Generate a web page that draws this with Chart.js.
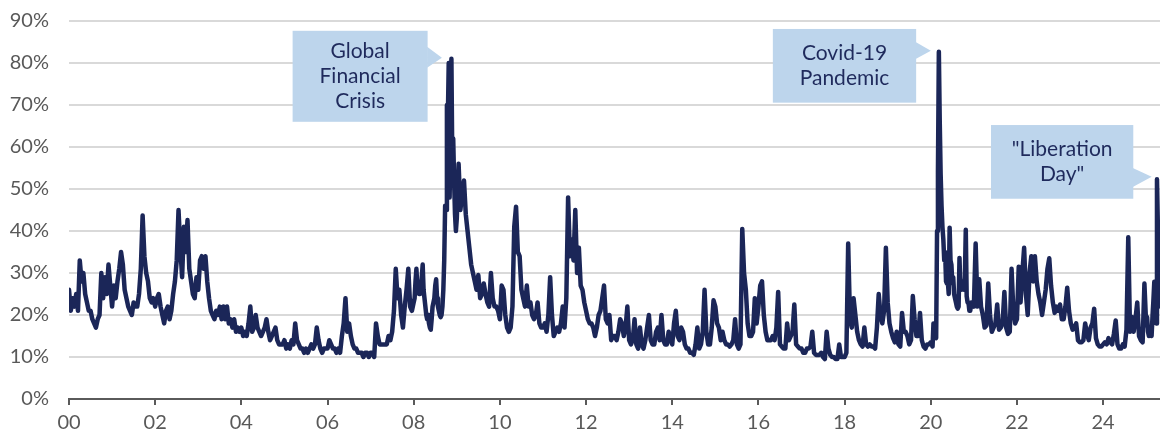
<!DOCTYPE html>
<html>
<head>
<meta charset="utf-8">
<script src="https://cdn.jsdelivr.net/npm/chart.js@4.4.1/dist/chart.umd.min.js"></script>
<style>
  html, body { margin: 0; padding: 0; background: #fff; }
  #wrap { width: 1160px; height: 437px; }
</style>
</head>
<body>
<div id="wrap"><canvas id="vixChart" width="1160" height="437"></canvas></div>
<script>
// VIX level (%): half-monthly, weekly in 2008, 2020 and 2025
const vix2000 = [26, 21, 24, 22, 25, 21, 33, 28, 30, 25, 23, 21, 21, 19, 18, 17, 19, 20, 30, 24, 29, 25, 32, 27];
const vix2001 = [22, 27, 24, 28, 31, 35, 32, 26, 24, 22, 21, 20, 23, 22, 22, 25, 31, 43.7, 34, 30, 28, 24, 23, 24];
const vix2002 = [22, 24, 25, 22, 20, 18, 21, 22, 19, 21, 25, 28, 33, 45, 36, 29, 41, 35, 42.6, 31, 28, 25, 24, 29];
const vix2003 = [26, 33, 34, 31, 34, 28, 24, 21, 20, 19, 21, 20, 22, 19, 22, 19, 22, 18, 19, 17, 19, 16, 17, 16];
const vix2004 = [17, 15, 16, 15, 18, 22, 16, 17, 20, 17, 16, 15, 16, 17, 19, 16, 14, 15, 16, 17, 14, 13, 13, 13];
const vix2005 = [14, 12, 13, 12, 14, 13, 18, 14, 13, 12, 12, 11, 12, 11, 12, 13, 12, 13, 17, 14, 12, 11, 12, 12];
const vix2006 = [12, 14, 13, 12, 12, 11, 12, 11, 15, 18, 24, 16, 18, 15, 13, 12, 12, 11, 11, 11, 10, 11, 11, 10];
const vix2007 = [11, 11, 10, 18, 15, 13, 13, 13, 13, 13, 15, 14, 16, 21, 31, 24, 26, 20, 17, 22, 26, 31, 22, 21];
const vix2008 = [23, 24, 28, 31, 27, 28, 25, 26, 26, 29, 32, 26, 24, 22, 20, 19, 20, 18, 17, 16.5, 19, 22, 23, 24,
                 27, 28.5, 24, 22, 21, 20, 19.5, 20, 22, 26, 33, 46, 45, 70, 66, 80, 48, 62, 81, 56, 62, 52, 44, 40];
const vix2009 = [43, 56, 45, 49, 52, 44, 40, 36, 32, 30, 28, 26, 29.5, 24, 25, 27.5, 25, 23, 22, 30, 24, 22, 22, 21];
const vix2010 = [19, 27, 26, 20, 17, 16, 17, 22, 41, 45.8, 35, 34, 26, 24, 22, 27, 22, 23, 20, 19, 20, 23, 18, 17];
const vix2011 = [17, 18, 16, 20, 29, 20, 15, 16, 17, 16, 18, 22, 17, 24, 48, 34, 38, 33, 45, 30, 36, 27, 26, 23];
const vix2012 = [21, 19, 18, 18, 17, 15, 17, 20, 21, 24, 27, 19, 18, 20, 14, 15, 15, 14, 16, 19, 18, 15, 17, 22];
const vix2013 = [14, 13, 14, 19, 13, 12, 17, 13, 12, 14, 17, 20, 14, 13, 13, 16, 17, 14, 20, 14, 13, 13, 16, 14];
const vix2014 = [13, 18, 21, 15, 14, 17, 16, 13, 12, 12, 11, 11, 10.5, 13, 17, 12, 13, 16, 26, 16, 13, 13, 17, 23.5];
const vix2015 = [22, 18, 17, 14, 16, 14, 13, 13, 12.5, 13, 14, 19, 13, 12, 13, 40.5, 30, 26, 18, 15, 15, 16, 24, 18];
const vix2016 = [22, 27, 28, 20, 16, 14, 14, 14, 15, 14, 17, 25.5, 13, 12.5, 12, 12, 18, 14, 15, 16, 22.5, 13, 12.5, 12];
const vix2017 = [12, 11, 11, 12, 12, 12.5, 16, 11, 10.5, 10.5, 10.5, 11, 10, 9.5, 16, 12, 10.5, 10, 10, 9.5, 9.5, 13, 10, 10];
const vix2018 = [10, 11, 37, 19, 17, 24, 20, 16, 14, 13, 12.5, 17, 13, 12.5, 13, 12.5, 12.5, 12, 17, 25, 20, 18, 21, 36];
const vix2019 = [23, 18, 16, 14.5, 13.5, 16, 13, 12.5, 20.5, 16, 16, 15, 13, 14, 24.5, 19, 15, 15, 20.5, 14, 12.5, 12, 13, 13];
const vix2020 = [13.5, 13, 12.5, 18, 17, 15, 14.5, 40, 54, 82.7, 66, 53.5, 46, 41, 38, 33, 35, 28, 27.5, 28, 25, 40.8, 33, 32,
                 27.5, 29, 25, 24, 23, 22, 21.5, 22, 33.6, 26, 26, 27, 28, 26, 29, 40.3, 24.5, 23, 23, 21, 21, 23, 22, 23];
const vix2021 = [22, 37, 22, 28.5, 22, 20, 17, 17.5, 27.5, 20, 16, 17, 18, 22.5, 16.5, 17, 18, 25.5, 17, 15.5, 16, 31, 21, 18];
const vix2022 = [19, 31.5, 23, 30, 36, 25, 20, 30, 34, 28, 34, 28, 25, 23, 20, 23, 26, 31, 33.5, 27, 23, 20.5, 22, 21];
const vix2023 = [22.5, 19, 19, 22, 26.5, 21, 18, 16.5, 17, 18, 14, 13.5, 13.5, 14, 18, 15.5, 14, 17, 18, 21.5, 14.5, 13, 12.5, 12.5];
const vix2024 = [13, 13.5, 13, 14.5, 13.5, 13, 15.5, 18.7, 13, 12, 12, 13, 12.5, 16.5, 38.5, 16, 19.5, 16, 19, 23, 15, 14, 13.5, 27.5];
const vix2025 = [17.5, 19.5, 16, 15, 16, 15.5, 15, 19.6, 23.4, 27.9, 21, 18, 52.3, 40.7, 30, 25, 22];

const weeklyYears = [2008, 2020, 2025];
const xTickValues = [0, 2, 4, 6, 8, 10, 12, 14, 16, 18, 20, 22, 24];
const xTickLabels = ['00', '02', '04', '06', '08', '10', '12', '14', '16', '18', '20', '22', '24'];
const yTickValues = [0, 10, 20, 30, 40, 50, 60, 70, 80, 90];
const calloutText = [['Global', 'Financial', 'Crisis'], ['Covid-19', 'Pandemic'], ['"Liberation', 'Day"']];
const calloutYears = [2008, 2020, 2025];

const lineColor = '#1b2658';
const axisColor = '#5a5a5a';
const gridColor = '#d9d9d9';
const labelColor = '#595959';
const calloutFill = '#bdd5ec';
const calloutInk = '#1f2a5c';
const fontFamily = 'Lato, "Open Sans", sans-serif';

const seriesByYear = [vix2000, vix2001, vix2002, vix2003, vix2004, vix2005, vix2006, vix2007, vix2008,
  vix2009, vix2010, vix2011, vix2012, vix2013, vix2014, vix2015, vix2016, vix2017, vix2018, vix2019,
  vix2020, vix2021, vix2022, vix2023, vix2024, vix2025];

const points = [];
seriesByYear.forEach((vals, k) => {
  const n = weeklyYears.includes(2000 + k) ? 48 : 24;
  vals.forEach((v, i) => points.push({ x: k + i / n, y: v }));
});

// box geometry for each callout, relative to the peak it points at
const calloutBoxes = [
  { gap: 9.5, dy: -1, arrow: 14.3, w: 135, h: 91, top: -27, a1: 11, a2: 10 },
  { gap: 8, dy: -1, arrow: 14.7, w: 143.3, h: 73.7, top: -21.7, a1: 8.7, a2: 8.3 },
  { gap: 5.3, dy: -2.6, arrow: 18.4, w: 142.3, h: 73.7, top: -51.7, a1: 8.7, a2: 10.3 }
];

const calloutPlugin = {
  id: 'callouts',
  afterDatasetsDraw(chart) {
    const { ctx } = chart;
    const xs = chart.scales.x, ys = chart.scales.y;
    ctx.save();
    calloutBoxes.forEach((b, k) => {
      const lo = calloutYears[k] - 2000;
      let peak = null;
      points.forEach(p => {
        if (p.x >= lo && p.x < lo + 1 && (!peak || p.y > peak.y)) peak = p;
      });
      const tipX = xs.getPixelForValue(peak.x) - b.gap;
      const tipY = ys.getPixelForValue(peak.y) + b.dy;
      const right = tipX - b.arrow;
      const left = right - b.w;
      const top = tipY + b.top;
      ctx.fillStyle = calloutFill;
      ctx.fillRect(left, top, b.w, b.h);
      ctx.beginPath();
      ctx.moveTo(right - 0.5, tipY - b.a1);
      ctx.lineTo(tipX, tipY);
      ctx.lineTo(right - 0.5, tipY + b.a2);
      ctx.closePath();
      ctx.fill();

      const lines = calloutText[k];
      const lh = 25;
      const first = top + b.h / 2 - (lines.length - 1) * lh / 2;
      ctx.fillStyle = calloutInk;
      ctx.font = '21px ' + fontFamily;
      ctx.textAlign = 'center';
      ctx.textBaseline = 'middle';
      lines.forEach((t, i) => ctx.fillText(t, left + b.w / 2, first + i * lh));
    });
    ctx.restore();
  }
};

new Chart(document.getElementById('vixChart'), {
  type: 'line',
  data: {
    datasets: [{
      data: points,
      borderColor: lineColor,
      borderWidth: 4.5,
      borderJoinStyle: 'round',
      borderCapStyle: 'round',
      pointRadius: 0,
      tension: 0,
      fill: false
    }]
  },
  options: {
    responsive: false,
    animation: false,
    devicePixelRatio: 1,
    layout: { padding: { top: 21, right: 0, bottom: 0, left: 0 } },
    plugins: { legend: { display: false }, tooltip: { enabled: false } },
    scales: {
      x: {
        type: 'linear',
        min: 0,
        max: 25.32,
        afterBuildTicks: s => { s.ticks = xTickValues.map(v => ({ value: v })); },
        afterFit: s => { s.height = 38; s.paddingRight = 0; },
        grid: { drawOnChartArea: false, drawTicks: true, tickLength: 6, color: axisColor, lineWidth: 2 },
        border: { display: true, color: axisColor, width: 2 },
        ticks: {
          callback: (v, i) => xTickLabels[i],
          color: labelColor,
          font: { family: fontFamily, size: 20 },
          padding: 6,
          maxRotation: 0,
          autoSkip: false
        }
      },
      y: {
        min: 0,
        max: 90,
        afterBuildTicks: s => { s.ticks = yTickValues.map(v => ({ value: v })); },
        afterFit: s => { s.width = 69; s.paddingTop = 0; s.paddingBottom = 0; },
        grid: {
          color: c => (c.tick && c.tick.value === 0 ? 'rgba(0,0,0,0)' : gridColor),
          lineWidth: 2,
          drawTicks: false
        },
        border: { display: false },
        ticks: {
          callback: v => v + '%',
          color: labelColor,
          font: { family: fontFamily, size: 20 },
          padding: 20
        }
      }
    }
  },
  plugins: [calloutPlugin]
});
</script>
</body>
</html>
